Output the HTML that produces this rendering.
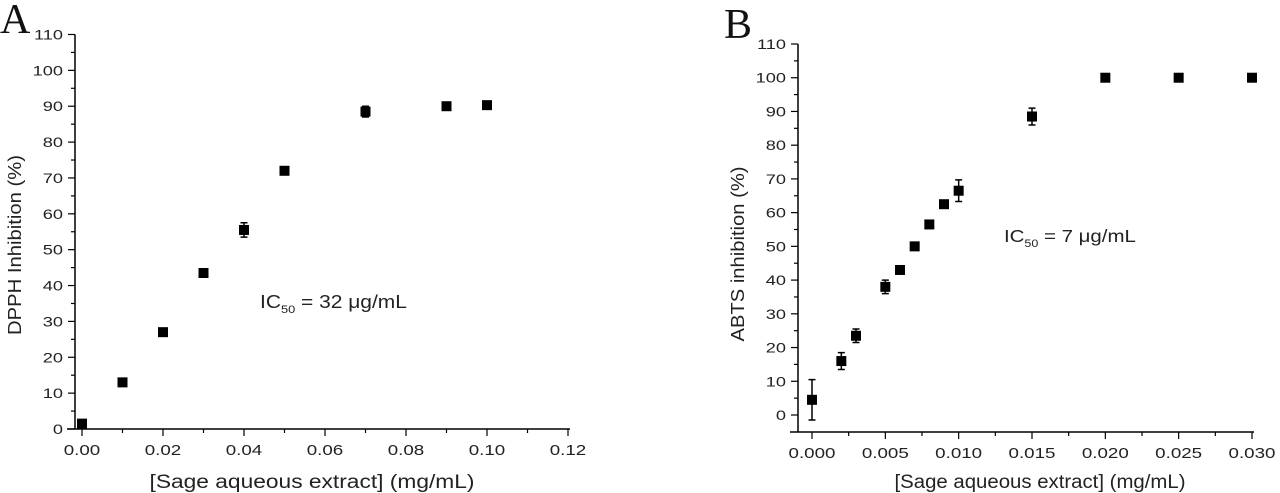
<!DOCTYPE html>
<html><head><meta charset="utf-8"><style>
html,body{margin:0;padding:0;background:#fff;}
svg{display:block;font-family:"Liberation Sans",Arial,sans-serif;}
</style></head><body>
<svg id="chart" width="1280" height="493" viewBox="0 0 1280 493" xmlns="http://www.w3.org/2000/svg">
<text x="0" y="33" font-family="Liberation Serif,serif" font-size="42" fill="#111">A</text>
<text x="724" y="38" font-family="Liberation Serif,serif" font-size="42" fill="#111">B</text>
<g id="pa"></g>
<g id="pb"></g>
</svg>
<script>
const aX=[0,0.01,0.02,0.03,0.04,0.05,0.07,0.09,0.10];
const aY=[1.5,13,27,43.5,55.5,72,88.5,90,90.3];
const aErr=[0,0,0,0,2,0,1.5,0,0];
const aXTicks=["0.00","0.02","0.04","0.06","0.08","0.10","0.12"];
const bX=[0,0.002,0.003,0.005,0.006,0.007,0.008,0.009,0.010,0.015,0.020,0.025,0.030];
const bY=[4.5,16,23.5,38,43,50,56.5,62.5,66.5,88.5,100,100,100];
const bErr=[6,2.5,2,2,0,0,0,0,3.2,2.5,0,0,0];
const bXTicks=["0.000","0.005","0.010","0.015","0.020","0.025","0.030"];
const yTicks=[0,10,20,30,40,50,60,70,80,90,100,110];
const NS="http://www.w3.org/2000/svg";
function mk(p,t,a){const e=document.createElementNS(NS,t);for(const k in a)e.setAttribute(k,a[k]);p.appendChild(e);return e;}
function stretch(t,f){const w=t.getComputedTextLength();t.setAttribute('textLength',w*f);t.setAttribute('lengthAdjust','spacingAndGlyphs');}
function panel(g,cfg){
  const sx=v=>cfg.x0+(v-cfg.xmin)/(cfg.xmax-cfg.xmin)*(cfg.x1-cfg.x0);
  const sy=v=>cfg.y0+(v)/(110)*(cfg.y1-cfg.y0);
  const axY=cfg.axisY, axX=cfg.axisX;
  let l=mk(g,'line',{x1:axX,y1:sy(110),x2:axX,y2:axY,stroke:'#000','stroke-width':1.5});
  
  l=mk(g,'line',{x1:axX-8,y1:axY,x2:cfg.x1+2,y2:axY,stroke:'#000','stroke-width':1.5});
  
  for(let v=0;v<=110;v+=5){
    const major=v%10===0, y=sy(v);
    mk(g,'line',{x1:axX-(major?7:4),y1:y,x2:axX,y2:y,stroke:'#000','stroke-width':1.2});
    if(major){const t=mk(g,'text',{x:axX-12,y:y+5,'text-anchor':'end','font-size':14,fill:'#222'});t.textContent=v;stretch(t,1.3);
      }
  }
  const n=cfg.ticks.length;
  for(let i=0;i<2*n-1;i++){
    const v=cfg.xmin+i/2*(cfg.xmax-cfg.xmin)/(n-1), x=sx(v), major=i%2===0;
    mk(g,'line',{x1:x,y1:axY,x2:x,y2:axY+(major?7:4),stroke:'#000','stroke-width':1.2});
    if(major){const t=mk(g,'text',{x:x,y:axY+26,'text-anchor':'middle','font-size':15,fill:'#222'});t.textContent=cfg.ticks[i/2];stretch(t,1.25);
      }
  }
  for(let i=0;i<cfg.xs.length;i++){
    const x=sx(cfg.xs[i]), y=sy(cfg.ys[i]), e=cfg.err[i];
    if(e>0){const yt=sy(cfg.ys[i]+e), yb=sy(cfg.ys[i]-e);
      const p=mk(g,'path',{d:`M${x} ${yt}V${yb}M${x-3.5} ${yt}H${x+3.5}M${x-3.5} ${yb}H${x+3.5}`,stroke:'#000','stroke-width':1.5,fill:'none'});
      }
    const r=mk(g,'rect',{x:x-5,y:y-5,width:10,height:10,fill:'#000'});
    
  }
  let t=mk(g,'text',{x:cfg.xtX,y:488,'text-anchor':'middle','font-size':19,fill:'#222',textLength:cfg.xtLen,lengthAdjust:'spacingAndGlyphs'});t.textContent='[Sage aqueous extract] (mg/mL)';
  
  t=mk(g,'text',{x:0,y:0,'text-anchor':'middle','font-size':18,fill:'#222',textLength:cfg.ytLen,lengthAdjust:'spacingAndGlyphs',transform:`translate(${cfg.ytX},${cfg.ytY}) rotate(-90)`});t.textContent=cfg.ytitle;
  
  t=mk(g,'text',{x:cfg.icX,y:cfg.icY,'font-size':18,fill:'#222'});
  t.innerHTML='IC<tspan font-size="11" dy="5">50</tspan><tspan dy="-5"> = '+cfg.ic+' μg/mL</tspan>';
  
  const w=t.getBBox().width; t.setAttribute('transform',`translate(${cfg.icX},0) scale(${cfg.icLen/w},1) translate(${-cfg.icX},0)`);
}
panel(document.getElementById('pa'),{x0:82,x1:568,xmin:0,xmax:0.12,y0:429,y1:34.5,axisY:429,axisX:75,
  ticks:aXTicks,xs:aX,ys:aY,err:aErr,xtX:312,xtLen:325,ytX:21,ytY:245,ytLen:180,ytitle:'DPPH Inhibition (%)',icX:260,icY:308,icLen:147,ic:'32'});
panel(document.getElementById('pb'),{x0:812,x1:1252,xmin:0,xmax:0.03,y0:415,y1:44,axisY:432,axisX:798,
  ticks:bXTicks,xs:bX,ys:bY,err:bErr,xtX:1040,xtLen:291,ytX:744,ytY:254,ytLen:175,ytitle:'ABTS inhibition (%)',icX:1004,icY:242,icLen:132,ic:'7'});
</script>
</body></html>
